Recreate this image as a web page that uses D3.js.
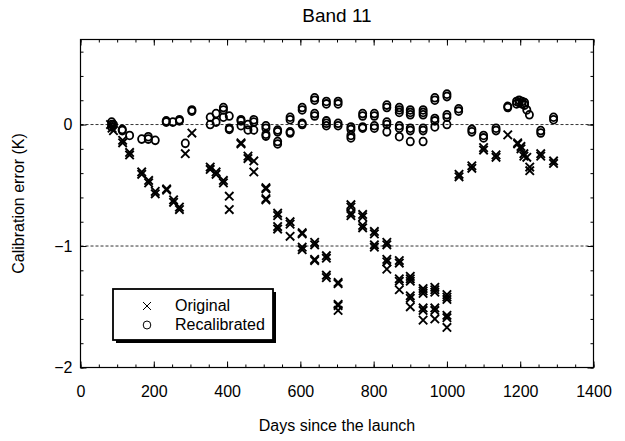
<!DOCTYPE html>
<html>
<head>
<meta charset="utf-8">
<script src="https://cdn.jsdelivr.net/npm/d3@7"></script>
<style>
  body { margin: 0; background: #fff; }
  text { font-family: "Liberation Sans", Arial, sans-serif; fill: #000; }
</style>
</head>
<body>
<div id="chart"></div>
<script>
const origDays = [82, 86, 90, 115, 134, 167, 186, 204, 235, 254, 270, 286, 304,
  354, 370, 390, 406, 438, 457, 473, 506, 538, 572, 605, 639, 671, 703,
  738, 770, 802, 836, 870, 900, 935, 967, 1000,
  1033, 1068, 1100, 1134, 1166, 1193, 1202, 1210, 1218, 1226, 1256, 1291];
const origVals = [[0.0], [-0.03], [-0.05], [-0.13, -0.15], [-0.23, -0.25], [-0.39, -0.41],
  [-0.46, -0.48], [-0.55, -0.57], [-0.53, -0.54], [-0.62, -0.64], [-0.68, -0.70], [-0.24], [-0.07],
  [-0.35, -0.37], [-0.39, -0.41], [-0.46, -0.48], [-0.59, -0.70], [-0.15, -0.16], [-0.26, -0.28],
  [-0.30, -0.39], [-0.52, -0.53, -0.61, -0.62], [-0.73, -0.75, -0.84, -0.86], [-0.80, -0.82, -0.92],
  [-0.89, -0.90, -1.01, -1.03], [-0.97, -0.99, -1.11, -1.12], [-1.08, -1.10, -1.24, -1.26],
  [-1.30, -1.31, -1.48, -1.49, -1.53],
  [-0.66, -0.68, -0.73, -0.75], [-0.74, -0.76, -0.83, -0.85], [-0.88, -0.90, -0.99, -1.01],
  [-0.97, -0.99, -1.11, -1.13, -1.19], [-1.12, -1.14, -1.27, -1.29, -1.36],
  [-1.25, -1.27, -1.29, -1.41, -1.43, -1.50], [-1.35, -1.37, -1.39, -1.51, -1.53, -1.61],
  [-1.34, -1.36, -1.38, -1.51, -1.53, -1.60], [-1.40, -1.42, -1.44, -1.57, -1.59, -1.67],
  [-0.41, -0.43], [-0.34, -0.36], [-0.19, -0.21], [-0.25, -0.27], [-0.085], [-0.15, -0.16],
  [-0.18, -0.20], [-0.24, -0.26], [-0.27], [-0.35, -0.38], [-0.24, -0.26], [-0.30, -0.32]];

const recalDays = [85, 90, 114, 134, 167, 185, 204, 234, 252, 270, 286, 304,
  354, 370, 390, 406, 438, 457, 473, 506, 538, 572, 605, 639, 671, 703,
  738, 770, 802, 836, 870, 900, 935, 967, 1000,
  1032, 1068, 1100, 1134, 1166, 1190, 1197, 1205, 1212, 1218, 1225, 1256, 1291];
const recalVals = [[0.02, 0.0, -0.02], [0.0], [-0.04, -0.05], [-0.09], [-0.12], [-0.10, -0.12],
  [-0.13], [0.03, 0.02], [0.02], [0.04, 0.03], [-0.155], [0.11, 0.12],
  [0.06, 0.0], [0.09, 0.02], [0.14, 0.12, 0.06], [0.07, -0.03, -0.04], [0.04, 0.03, -0.01],
  [0.0, -0.045], [0.04, 0.02, -0.045], [-0.01, -0.03, -0.08, -0.095], [-0.045, -0.06, -0.14, -0.16],
  [0.06, 0.04, -0.06, -0.07], [0.14, 0.12, 0.01, 0.0], [0.22, 0.20, 0.09, 0.07],
  [0.19, 0.17, 0.03, 0.01, -0.01], [0.19, 0.17, 0.01, -0.01],
  [-0.02, -0.04, -0.09, -0.11], [0.09, 0.07, -0.02, -0.03], [0.09, 0.07, -0.01, -0.03],
  [0.16, 0.14, 0.02, 0.0, -0.06], [0.14, 0.12, 0.10, -0.01, -0.03, -0.10],
  [0.12, 0.10, 0.08, -0.03, -0.05, -0.14], [0.12, 0.10, 0.08, -0.03, -0.05, -0.14],
  [0.22, 0.20, 0.05, 0.03, -0.02], [0.25, 0.23, 0.08, 0.06, 0.0],
  [0.13, 0.11], [-0.04, -0.06], [-0.09, -0.11], [-0.03, -0.05], [0.15, 0.14], [0.17, 0.19],
  [0.18, 0.20], [0.19, 0.17], [0.18, 0.16], [0.12], [0.08], [-0.05, -0.07], [0.06, 0.04]];

const xTicks = [0, 200, 400, 600, 800, 1000, 1200, 1400];
const yTicks = [-2, -1, 0];
const refLines = [0, -1];
const legendItems = ["Original", "Recalibrated"];

const W = 625, H = 441;
const margin = {top: 39.5, right: 31.5, bottom: 73.5, left: 80.5};

const svg = d3.select("#chart").append("svg")
  .attr("width", W).attr("height", H);

const x = d3.scaleLinear().domain([0, 1400]).range([margin.left, W - margin.right]);
const y = d3.scaleLinear().domain([-2, 0.7]).range([H - margin.bottom, margin.top]);

// flatten groups into points
const flat = (days, vals) => days.flatMap((d, i) => vals[i].map(v => ({day: d, val: v})));
const origPts = flat(origDays, origVals);
const recalPts = flat(recalDays, recalVals);

// dashed reference lines
svg.append("g").selectAll("line").data(refLines).join("line")
  .attr("x1", x(0)).attr("x2", x(1400))
  .attr("y1", d => y(d)).attr("y2", d => y(d))
  .attr("stroke", "#000").attr("stroke-width", 0.8)
  .attr("stroke-dasharray", "3,2");

// frame
svg.append("rect")
  .attr("x", x(0)).attr("y", y(0.7))
  .attr("width", x(1400) - x(0)).attr("height", y(-2) - y(0.7))
  .attr("fill", "none").attr("stroke", "#000").attr("stroke-width", 1.2);

// axes with inward ticks
const minorX = d3.range(0, 1401, 50);
const minorY = d3.range(-2, 0.71, 0.2);
const axisStyle = g => { g.select(".domain").remove(); g.selectAll("line").attr("stroke", "#000"); };

svg.append("g").attr("transform", `translate(0,${y(-2)})`)
  .call(d3.axisBottom(x).tickValues(minorX).tickSize(-3).tickFormat(""))
  .call(axisStyle);
svg.append("g").attr("transform", `translate(0,${y(-2)})`)
  .call(d3.axisBottom(x).tickValues(xTicks).tickSize(-6).tickPadding(18).tickFormat(d3.format("d")))
  .call(axisStyle)
  .selectAll("text").style("font-size", "16px");
svg.append("g").attr("transform", `translate(0,${y(0.7)})`)
  .call(d3.axisTop(x).tickValues(minorX).tickSize(-3).tickFormat(""))
  .call(axisStyle);
svg.append("g").attr("transform", `translate(0,${y(0.7)})`)
  .call(d3.axisTop(x).tickValues(xTicks).tickSize(-6).tickFormat(""))
  .call(axisStyle);

svg.append("g").attr("transform", `translate(${x(0)},0)`)
  .call(d3.axisLeft(y).tickValues(minorY).tickSize(-3).tickFormat(""))
  .call(axisStyle);
svg.append("g").attr("transform", `translate(${x(0)},0)`)
  .call(d3.axisLeft(y).tickValues(yTicks).tickSize(-6).tickPadding(8).tickFormat(d3.format("d")))
  .call(axisStyle)
  .selectAll("text").style("font-size", "16px");
svg.append("g").attr("transform", `translate(${x(1400)},0)`)
  .call(d3.axisRight(y).tickValues(minorY).tickSize(-3).tickFormat(""))
  .call(axisStyle);
svg.append("g").attr("transform", `translate(${x(1400)},0)`)
  .call(d3.axisRight(y).tickValues(yTicks).tickSize(-6).tickFormat(""))
  .call(axisStyle);

// markers
const cross = "M-4.2,-4.2L4.2,4.2M-4.2,4.2L4.2,-4.2";
svg.append("g").selectAll("path").data(origPts).join("path")
  .attr("transform", d => `translate(${x(d.day)},${y(d.val)})`)
  .attr("d", cross)
  .attr("fill", "none").attr("stroke", "#000").attr("stroke-width", 1.9);

svg.append("g").selectAll("ellipse").data(recalPts).join("ellipse")
  .attr("cx", d => x(d.day)).attr("cy", d => y(d.val))
  .attr("rx", 3.6).attr("ry", 3.9)
  .attr("fill", "none").attr("stroke", "#000").attr("stroke-width", 1.8);

// titles
svg.append("text").attr("x", 337).attr("y", 21.5)
  .attr("text-anchor", "middle").style("font-size", "19px").text("Band 11");
svg.append("text").attr("x", 337).attr("y", 431)
  .attr("text-anchor", "middle").style("font-size", "16px").text("Days since the launch");
svg.append("text")
  .attr("transform", `translate(24,${(y(0.7) + y(-2)) / 2}) rotate(-90)`)
  .attr("text-anchor", "middle").style("font-size", "16px").text("Calibration error (K)");

// legend
const lg = svg.append("g").attr("transform", "translate(113,289)");
lg.append("rect").attr("x", 3).attr("y", 3).attr("width", 160).attr("height", 51).attr("fill", "#000");
lg.append("rect").attr("width", 160).attr("height", 51)
  .attr("fill", "#fff").attr("stroke", "#000").attr("stroke-width", 1.8);
lg.append("path").attr("transform", "translate(34,17)").attr("d", "M-4,-4L4,4M-4,4L4,-4")
  .attr("stroke", "#000").attr("stroke-width", 1);
lg.append("ellipse").attr("cx", 34).attr("cy", 36).attr("rx", 3.8).attr("ry", 4)
  .attr("fill", "none").attr("stroke", "#000").attr("stroke-width", 1);
lg.selectAll("text.item").data(legendItems).join("text")
  .attr("class", "item")
  .attr("x", 62).attr("y", (d, i) => 21.5 + i * 19.5)
  .style("font-size", "16px").text(d => d);
</script>
</body>
</html>
